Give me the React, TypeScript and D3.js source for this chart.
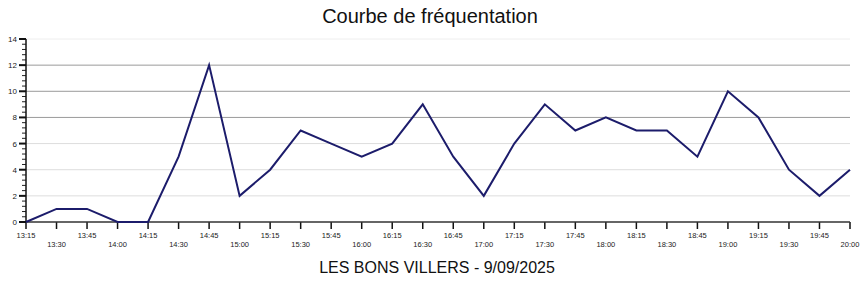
import React from "react";
import * as d3 from "d3";

const times = ["13:15","13:30","13:45","14:00","14:15","14:30","14:45","15:00","15:15","15:30","15:45","16:00","16:15","16:30","16:45","17:00","17:15","17:30","17:45","18:00","18:15","18:30","18:45","19:00","19:15","19:30","19:45","20:00"];
const visitors = [0,1,1,0,0,5,12,2,4,7,6,5,6,9,5,2,6,9,7,8,7,7,5,10,8,4,2,4];
const yTicks = [0,2,4,6,8,10,12,14];
const title = "Courbe de fréquentation";
const subtitle = "LES BONS VILLERS - 9/09/2025";

const W = 860, H = 284;
const left = 26, right = 850, top = 39, bottom = 222;

export default function App() {
  const x = d3.scalePoint<string>().domain(times).range([left, right]);
  const y = d3.scaleLinear().domain([0, 14]).range([bottom, top]);
  const line = d3.line<number>().x((_, i) => x(times[i])!).y(d => y(d));
  const minor = d3.range(0, 14.001, 0.4).filter(v => Math.abs(v / 2 - Math.round(v / 2)) > 0.01);
  const gridColor = (v: number) => (v === 14 ? "#eeeeee" : v >= 8 ? "#9a9a9a" : "#dddddd");
  const font = "Arial, 'Liberation Sans', sans-serif";
  return (
    <svg width={W} height={H} style={{ position: "absolute", left: 0, top: 0, background: "#fff" }} fontFamily={font}>
      <text x={430} y={23} textAnchor="middle" fontSize={20} fill="#111">{title}</text>
      {yTicks.filter(v => v > 0).map(v => (
        <line key={"g" + v} x1={left} x2={right} y1={y(v)} y2={y(v)} stroke={gridColor(v)} strokeWidth={1} />
      ))}
      {minor.map((v, i) => (
        <line key={"m" + i} x1={left - 4} x2={left} y1={y(v)} y2={y(v)} stroke="#222" strokeWidth={1} />
      ))}
      {yTicks.map(v => (
        <g key={"t" + v}>
          <line x1={left - 7} x2={left} y1={y(v)} y2={y(v)} stroke="#111" strokeWidth={2} />
          <text x={left - 9} y={y(v) + 3} textAnchor="end" fontSize={8} fill="#222">{v}</text>
        </g>
      ))}
      <line x1={left} x2={left} y1={top} y2={bottom} stroke="#111" strokeWidth={1.5} />
      {times.map((t, i) => (
        <g key={t}>
          <line x1={x(t)!} x2={x(t)!} y1={bottom} y2={bottom + 7} stroke="#111" strokeWidth={1.5} />
          <text x={x(t)!} y={i % 2 === 0 ? bottom + 16 : bottom + 25} textAnchor="middle" fontSize={7.5} fill="#222">{t}</text>
        </g>
      ))}
      <line x1={left} x2={right} y1={bottom} y2={bottom} stroke="#333" strokeWidth={1.5} />
      <path d={line(visitors)!} fill="none" stroke="#1c1c6b" strokeWidth={2} strokeLinejoin="miter" />
      <text x={437} y={273} textAnchor="middle" fontSize={16} fill="#111">{subtitle}</text>
    </svg>
  );
}
